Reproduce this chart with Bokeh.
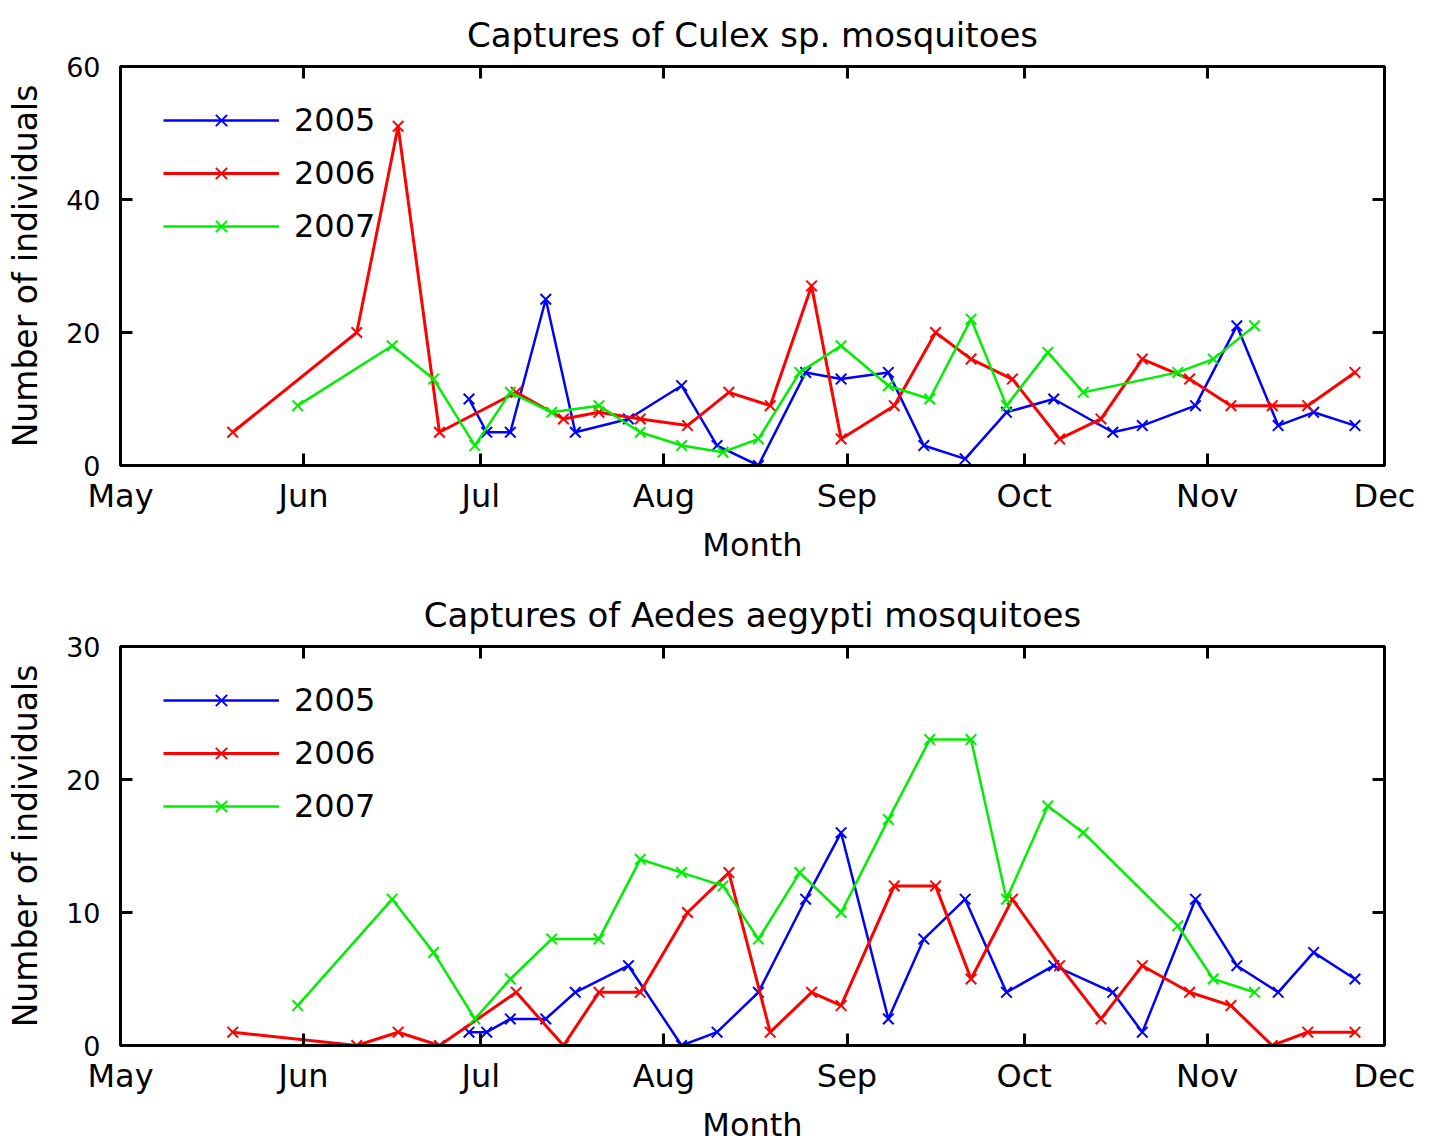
import pandas as pd
from bokeh.plotting import figure
from bokeh.layouts import column
from bokeh.models import (Range1d, LinearAxis, DatetimeAxis, FixedTicker,
                          DatetimeTickFormatter, Legend, LegendItem)
from bokeh.embed import file_html
from bokeh.resources import INLINE

# ---------------- data ----------------
REF_YEAR = 2005  # x axis shows months only
month_starts = ["05-01", "06-01", "07-01", "08-01", "09-01", "10-01", "11-01", "12-01"]

dates_2005 = ["06-29", "07-02", "07-06", "07-12", "07-17", "07-26", "08-04", "08-10",
              "08-17", "08-25", "08-31", "09-08", "09-14", "09-21", "09-28", "10-06",
              "10-16", "10-21", "10-30", "11-06", "11-13", "11-19", "11-26"]
dates_2006 = ["05-20", "06-10", "06-17", "06-24", "07-07", "07-15", "07-21", "07-28",
              "08-05", "08-12", "08-19", "08-26", "08-31", "09-09", "09-16", "09-22",
              "09-29", "10-07", "10-14", "10-21", "10-29", "11-05", "11-12", "11-18",
              "11-26"]
dates_2007 = ["05-31", "06-16", "06-23", "06-30", "07-06", "07-13", "07-21", "07-28",
              "08-04", "08-11", "08-17", "08-24", "08-31", "09-08", "09-15", "09-22",
              "09-28", "10-05", "10-11", "10-27", "11-02", "11-09"]

culex_2005 = [10, 5, 5, 25, 5, 7, 12, 3, 0, 14, 13, 14, 3, 1, 8, 10, 5, 6, 9, 21, 6, 8, 6]
culex_2006 = [5, 20, 51, 5, 11, 7, 8, 7, 6, 11, 9, 27, 4, 9, 20, 16, 13, 4, 7, 16, 13, 9, 9, 9, 14]
culex_2007 = [9, 18, 13, 3, 11, 8, 9, 5, 3, 2, 4, 14, 18, 12, 10, 22, 9, 17, 11, 14, 16, 21]

aedes_2005 = [1, 1, 2, 2, 4, 6, 0, 1, 4, 11, 16, 2, 8, 11, 4, 6, 4, 1, 11, 6, 4, 7, 5]
aedes_2006 = [1, 0, 1, 0, 4, 0, 4, 4, 10, 13, 1, 4, 3, 12, 12, 5, 11, 6, 2, 6, 4, 3, 0, 1, 1]
aedes_2007 = [3, 11, 7, 2, 5, 8, 8, 14, 13, 12, 8, 13, 10, 17, 23, 23, 11, 18, 16, 9, 5, 4]

years = ["2005", "2006", "2007"]
culex_ticks = [0, 20, 40, 60]
aedes_ticks = [0, 10, 20, 30]

# ---------------- styling ----------------
FONT = "DejaVu Sans"
COLORS = {"2005": "#0000ff", "2006": "#ff0000", "2007": "#00ee00"}
LWIDTH = {"2005": 2.5, "2006": 3, "2007": 2.5}


def to_dt(mmdd):
    return pd.to_datetime([f"{REF_YEAR}-{d}" for d in mmdd])


def to_ms(mmdd):
    epoch = pd.Timestamp("1970-01-01")
    return [(t - epoch).total_seconds() * 1000.0 for t in to_dt(mmdd)]


month_ms = to_ms(month_starts)

fmt = DatetimeTickFormatter(microseconds="%b", milliseconds="%b", seconds="%b",
                            minsec="%b", minutes="%b", hourmin="%b", hours="%b",
                            days="%b", months="%b", years="%b")


def style_axis(ax):
    ax.axis_line_width = 3
    ax.axis_line_color = "black"
    ax.major_tick_in = 12
    ax.major_tick_out = 0
    ax.major_tick_line_width = 3
    ax.major_tick_line_color = "black"
    ax.minor_tick_line_color = None


def make_panel(title, dates, values, yticks, height, top, bottom):
    p = figure(width=1430, height=height, x_axis_type="datetime",
               x_range=Range1d(month_ms[0], month_ms[-1]),
               y_range=Range1d(yticks[0], yticks[-1]),
               output_backend="svg", toolbar_location=None,
               min_border_left=120, min_border_right=46,
               min_border_top=top, min_border_bottom=bottom)
    p.background_fill_color = "white"
    p.border_fill_color = "white"
    p.outline_line_color = "black"
    p.outline_line_width = 3
    p.xgrid.visible = False
    p.ygrid.visible = False

    p.title.text = title
    p.title.align = "center"
    p.title.text_font = FONT
    p.title.text_font_size = "34px"
    p.title.text_font_style = "normal"
    p.title.text_color = "black"
    p.title.standoff = 23

    # bottom axis
    xa = p.xaxis[0]
    xa.ticker = FixedTicker(ticks=month_ms)
    xa.formatter = fmt
    style_axis(xa)
    xa.major_label_text_font = FONT
    xa.major_label_text_font_size = "32px"
    xa.major_label_text_color = "black"
    xa.major_label_standoff = 11
    xa.axis_label = "Month"
    xa.axis_label_text_font = FONT
    xa.axis_label_text_font_size = "32px"
    xa.axis_label_text_font_style = "normal"
    xa.axis_label_text_color = "black"
    xa.axis_label_standoff = 8

    # left axis
    ya = p.yaxis[0]
    ya.ticker = FixedTicker(ticks=yticks)
    style_axis(ya)
    ya.major_label_text_font = FONT
    ya.major_label_text_font_size = "27px"
    ya.major_label_text_color = "black"
    ya.major_label_standoff = 20
    ya.axis_label = "Number of individuals"
    ya.axis_label_text_font = FONT
    ya.axis_label_text_font_size = "33px"
    ya.axis_label_text_font_style = "normal"
    ya.axis_label_text_color = "black"
    ya.axis_label_standoff = 18

    # mirrored ticks (top / right), no labels drawn
    top_ax = DatetimeAxis(ticker=FixedTicker(ticks=month_ms), formatter=fmt,
                          major_label_text_font_size="1px",
                          major_label_text_color=None, major_label_standoff=0)
    style_axis(top_ax)
    p.add_layout(top_ax, "above")
    right_ax = LinearAxis(ticker=FixedTicker(ticks=yticks),
                          major_label_text_font_size="1px",
                          major_label_text_color=None, major_label_standoff=0)
    style_axis(right_ax)
    p.add_layout(right_ax, "right")

    items = []
    for yr in years:
        x = to_dt(dates[yr])
        ln = p.line(x, values[yr], line_color=COLORS[yr], line_width=LWIDTH[yr])
        sc = p.scatter(x, values[yr], marker="x", size=15, line_color=COLORS[yr],
                       line_width=2)
        items.append(LegendItem(label=yr, renderers=[ln, sc]))

    legend = Legend(items=items, location=(43, 219), padding=0, margin=0,
                    spacing=13, glyph_width=116, glyph_height=40, label_standoff=15,
                    label_text_font=FONT, label_text_font_size="32px",
                    label_text_color="black", background_fill_alpha=0,
                    border_line_color=None)
    p.add_layout(legend)
    return p


dates = {"2005": dates_2005, "2006": dates_2006, "2007": dates_2007}
p1 = make_panel("Captures of Culex sp. mosquitoes", dates,
                {"2005": culex_2005, "2006": culex_2006, "2007": culex_2007},
                culex_ticks, height=581, top=66, bottom=116)
p2 = make_panel("Captures of Aedes aegypti mosquitoes", dates,
                {"2005": aedes_2005, "2006": aedes_2006, "2007": aedes_2007},
                aedes_ticks, height=565, top=65, bottom=101)

layout = column(p1, p2)
open("out.html", "w").write(file_html(layout, INLINE))
